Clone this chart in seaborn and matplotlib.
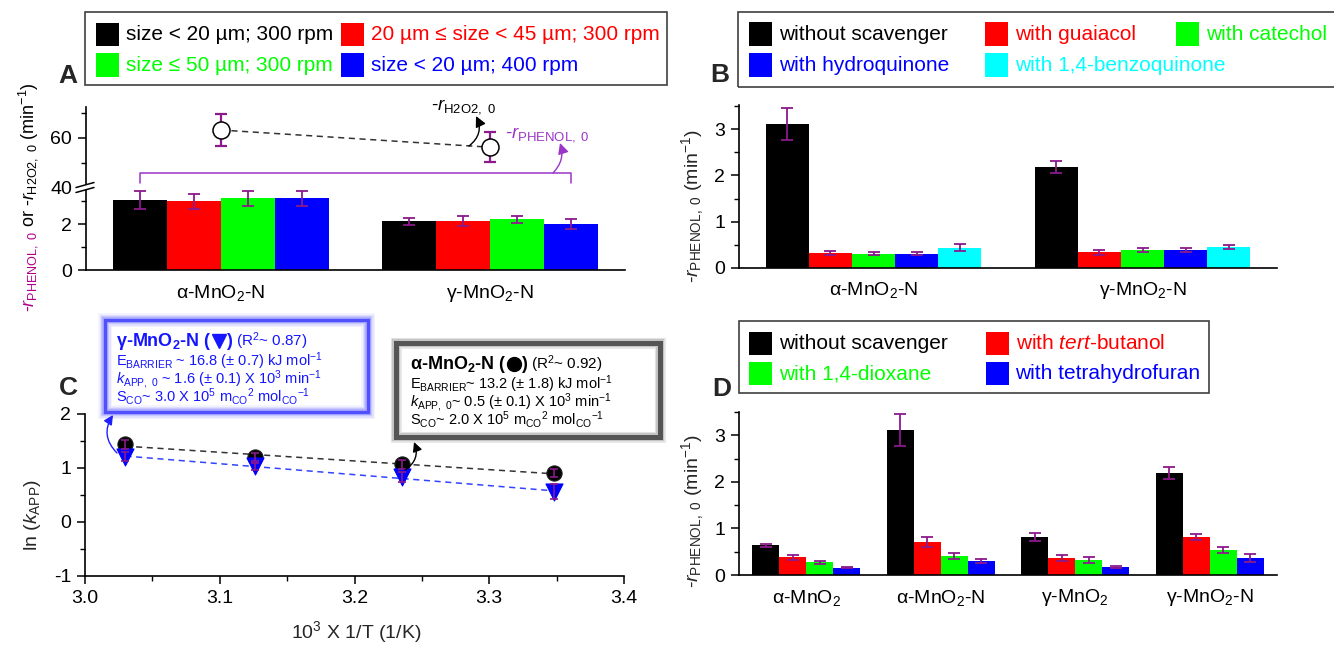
import numpy as np
import pandas as pd
import matplotlib
matplotlib.use("Agg")
import matplotlib.pyplot as plt
import seaborn as sns
from matplotlib.patches import Rectangle, Polygon
from matplotlib.lines import Line2D
from matplotlib.text import Annotation
from matplotlib.container import BarContainer
from matplotlib.ticker import MultipleLocator

# ---------------- data ----------------
# Panel A
catsA = ['α-MnO$_2$-N', 'γ-MnO$_2$-N']
seriesA = ['size < 20 µm; 300 rpm', '20 µm ≤ size < 45 µm; 300 rpm',
           'size ≤ 50 µm; 300 rpm', 'size < 20 µm; 400 rpm']
A_alpha = [3.05, 3.00, 3.12, 3.12]
A_alpha_err = [0.41, 0.33, 0.34, 0.32]
A_gamma = [2.12, 2.12, 2.20, 2.00]
A_gamma_err = [0.15, 0.22, 0.14, 0.22]
A_h2o2 = [63.2, 56.3]
A_h2o2_err = [6.5, 5.9]

# Panel B
catsB = ['α-MnO$_2$-N', 'γ-MnO$_2$-N']
seriesB = ['without scavenger', 'with guaiacol', 'with catechol',
           'with hydroquinone', 'with 1,4-benzoquinone']
B_alpha = [3.11, 0.32, 0.31, 0.31, 0.44]
B_alpha_err = [0.34, 0.05, 0.04, 0.04, 0.07]
B_gamma = [2.19, 0.34, 0.39, 0.39, 0.46]
B_gamma_err = [0.13, 0.05, 0.05, 0.04, 0.04]

# Panel C
invT = [3.030, 3.126, 3.235, 3.348]
ln_alpha = [1.44, 1.20, 1.07, 0.91]
ln_alpha_err = [0.08, 0.07, 0.08, 0.08]
ln_gamma = [1.21, 1.03, 0.83, 0.56]
ln_gamma_err = [0.08, 0.07, 0.09, 0.14]

# Panel D
catsD = ['α-MnO$_2$', 'α-MnO$_2$-N', 'γ-MnO$_2$', 'γ-MnO$_2$-N']
seriesD = ['without scavenger', 'with $\\mathit{tert}$-butanol',
           'with 1,4-dioxane', 'with tetrahydrofuran']
D_alphaMnO2 = [0.64, 0.38, 0.27, 0.16]
D_alphaMnO2_err = [0.03, 0.06, 0.035, 0.02]
D_alphaN = [3.11, 0.71, 0.41, 0.30]
D_alphaN_err = [0.34, 0.10, 0.06, 0.05]
D_gammaMnO2 = [0.82, 0.36, 0.32, 0.17]
D_gammaMnO2_err = [0.08, 0.06, 0.06, 0.03]
D_gammaN = [2.19, 0.82, 0.54, 0.36]
D_gammaN_err = [0.13, 0.06, 0.07, 0.09]

# ---------------- style ----------------
BLACK, RED, GREEN, BLUE, CYAN = '#000000', '#FF0000', '#00FF00', '#0000FF', '#00FFFF'
ERR = '#8B1A8B'
VIOLET = '#9B35C8'
MAGENTA = '#B0008C'

sns.set_theme(style='ticks', rc={'axes.edgecolor': 'black', 'xtick.color': 'black',
                                 'ytick.color': 'black', 'axes.linewidth': 1.2})
plt.rcParams['font.family'] = ['Liberation Sans', 'DejaVu Sans']
plt.rcParams['mathtext.fontset'] = 'custom'
plt.rcParams['mathtext.rm'] = 'Liberation Sans'
plt.rcParams['mathtext.it'] = 'Liberation Sans:italic'
plt.rcParams['mathtext.bf'] = 'Liberation Sans:bold'
plt.rcParams['mathtext.sf'] = 'Liberation Sans'
plt.rcParams['axes.unicode_minus'] = False

W, H = 1334, 645
fig = plt.figure(figsize=(W / 100, H / 100), dpi=100)
renderer = fig.canvas.get_renderer()


def R(x0, y0, x1, y1):
    return [x0 / W, 1 - y1 / H, (x1 - x0) / W, (y1 - y0) / H]


def F(x, y):
    return (x / W, 1 - y / H)


def P(x, y):
    return (x, H - y)


def style(ax, bars=True):
    for s in ['top', 'right']:
        ax.spines[s].set_visible(False)
    ax.tick_params(axis='y', which='major', direction='out', length=6, width=1.1,
                   labelsize=14, pad=4)
    ax.tick_params(axis='y', which='minor', direction='out', length=3.5, width=1.0)
    if bars:
        ax.tick_params(axis='x', length=0, labelsize=14, pad=9)
    ax.set_xlabel('')
    ax.set_ylabel('')


def bar_panel(ax, cats, series, per_cat_vals, per_cat_errs, colors):
    rows = []
    for i, c in enumerate(cats):
        for j, s in enumerate(series):
            rows.append({'cat': c, 'series': s, 'val': per_cat_vals[i][j]})
    df = pd.DataFrame(rows)
    sns.barplot(data=df, x='cat', y='val', hue='series', order=cats, hue_order=series,
                palette=dict(zip(series, colors)), errorbar=None, width=0.8,
                saturation=1, legend=False, linewidth=0, ax=ax, zorder=2)
    conts = [c for c in ax.containers if isinstance(c, BarContainer)]
    for j, cont in enumerate(conts):
        xs = [b.get_x() + b.get_width() / 2 for b in cont]
        ys = [b.get_height() for b in cont]
        es = [per_cat_errs[i][j] for i in range(len(cats))]
        ax.errorbar(xs, ys, yerr=es, fmt='none', ecolor=ERR, elinewidth=1.3,
                    capsize=4, capthick=1.3, zorder=3)
    return conts


def draw_legend(box, entries, fs=15):
    x0, y0, x1, y1 = box
    fig.add_artist(Rectangle(F(x0, y1), (x1 - x0) / W, (y1 - y0) / H,
                             transform=fig.transFigure, fill=False,
                             edgecolor='#404040', lw=1.2))
    for sx, cy, col, lab in entries:
        fig.add_artist(Rectangle(F(sx, cy + 11.5), 23 / W, 23 / H,
                                 transform=fig.transFigure, facecolor=col,
                                 edgecolor='none'))
        fig.text(*F(sx + 30, cy + 6), lab, color=col, fontsize=fs,
                 ha='left', va='baseline')


def chain(x, yb, pieces, zorder=6):
    """Place text pieces / marker glyphs one after another on a common baseline."""
    for p in pieces:
        if p[0] == 'gap':
            x += p[1]
        elif p[0] == 'marker':
            _, m, ms, col, w = p
            fig.add_artist(Line2D([(x + w / 2) / W], [1 - (yb - 5) / H], marker=m,
                                  ms=ms, color=col, mec=col, linestyle='none',
                                  transform=fig.transFigure, zorder=zorder))
            x += w
        else:
            s, kw = p
            t = fig.text(x / W, 1 - yb / H, s, ha='left', va='baseline',
                         zorder=zorder, **kw)
            x = t.get_window_extent(renderer).x1


# ---------------- Panel A ----------------
axAt = fig.add_axes(R(86, 107, 625, 188))
axAb = fig.add_axes(R(86, 188, 625, 270))
colorsA = [BLACK, RED, GREEN, BLUE]
contsA = bar_panel(axAb, catsA, seriesA, [A_alpha, A_gamma],
                   [A_alpha_err, A_gamma_err], colorsA)
style(axAb)
axAb.set_xlim(-0.5, 1.5)
axAb.set_ylim(0, 3.57)
axAb.yaxis.set_major_locator(MultipleLocator(2))
axAb.yaxis.set_minor_locator(MultipleLocator(1))

style(axAt, bars=False)
axAt.spines['bottom'].set_visible(False)
axAt.tick_params(axis='x', length=0, labelbottom=False)
xh = np.arange(len(A_h2o2))
axAt.plot(xh, A_h2o2, ls=(0, (4, 3)), color='#333333', lw=1.1, zorder=1)
axAt.errorbar(xh, A_h2o2, yerr=A_h2o2_err, fmt='none', ecolor=ERR, elinewidth=1.6,
              capsize=4.5, capthick=1.6, zorder=2)
sns.scatterplot(x=xh, y=A_h2o2, marker='o', s=150, facecolor='white',
                edgecolor='black', linewidth=1.1, zorder=4, ax=axAt)
axAt.set_xlim(-0.5, 1.5)
axAt.set_ylim(40, 72.4)
axAt.yaxis.set_major_locator(MultipleLocator(20))
axAt.yaxis.set_minor_locator(MultipleLocator(10))
axAt.set_xlabel('')
axAt.set_ylabel('')

# bracket over the bars (from first black bar to last blue bar)
c0 = contsA[0][0]
c3 = contsA[-1][-1]
bx0 = c0.get_x() + c0.get_width() / 2
bx1 = c3.get_x() + c3.get_width() / 2
axAt.plot([bx0, bx0, bx1, bx1], [42, 46, 46, 42], color=VIOLET, lw=1.1, zorder=1)

# break marks
fig.add_artist(Polygon([F(76, 187.5), F(94, 182.5), F(94, 187.5), F(76, 192.5)],
                       closed=True, transform=fig.transFigure, facecolor='white',
                       edgecolor='none', zorder=5))
for dy in (0, 5):
    fig.add_artist(Line2D([76 / W, 94 / W], [1 - (187.5 + dy) / H, 1 - (182.5 + dy) / H],
                          transform=fig.transFigure, color='black', lw=1.1, zorder=6))

# annotations in A
fig.text(*F(431, 110), r'-$r_{\mathrm{H2O2,\ 0}}$', fontsize=13.5, color='black',
         ha='left', va='baseline')
fig.text(*F(505, 137), r'-$r_{\mathrm{PHENOL,\ 0}}$', fontsize=13.5, color=VIOLET,
         ha='left', va='baseline')
fig.add_artist(Annotation(
    '', xy=P(476, 116), xytext=P(469, 146), xycoords='figure pixels',
    textcoords='figure pixels',
    arrowprops=dict(arrowstyle='-|>', color='black', lw=1.0, mutation_scale=16,
                    connectionstyle='arc3,rad=0.4', shrinkA=0, shrinkB=0)))
fig.add_artist(Annotation(
    '', xy=P(560, 143), xytext=P(553, 173), xycoords='figure pixels',
    textcoords='figure pixels',
    arrowprops=dict(arrowstyle='-|>', color=VIOLET, lw=1.0, mutation_scale=16,
                    connectionstyle='arc3,rad=0.3', shrinkA=0, shrinkB=0)))

draw_legend((85, 12, 667, 85),
            [(96, 34.5, BLACK, seriesA[0]), (341, 34.5, RED, seriesA[1]),
             (96, 65, GREEN, seriesA[2]), (341, 65, BLUE, seriesA[3])])

# ---------------- Panel B ----------------
axB = fig.add_axes(R(739, 105, 1277, 268))
bar_panel(axB, catsB, seriesB, [B_alpha, B_gamma], [B_alpha_err, B_gamma_err],
          [BLACK, RED, GREEN, BLUE, CYAN])
style(axB)
axB.set_xlim(-0.5, 1.5)
axB.set_ylim(0, 3.52)
axB.yaxis.set_major_locator(MultipleLocator(1))
axB.yaxis.set_minor_locator(MultipleLocator(0.5))
draw_legend((738, 12, 1345, 87),
            [(749, 34, BLACK, seriesB[0]), (985, 34, RED, seriesB[1]),
             (1176, 34, GREEN, seriesB[2]), (749, 65, BLUE, seriesB[3]),
             (985, 65, CYAN, seriesB[4])])

# ---------------- Panel C ----------------
axC = fig.add_axes(R(85, 414, 624, 576))
x_c = np.array(invT)
sns.regplot(x=x_c, y=np.array(ln_alpha), scatter=False, ci=None, ax=axC,
            line_kws=dict(color='#333333', lw=1.1, ls=(0, (4, 3)), zorder=1))
sns.regplot(x=x_c, y=np.array(ln_gamma), scatter=False, ci=None, ax=axC,
            line_kws=dict(color='#3344FF', lw=1.1, ls=(0, (4, 3)), zorder=1))
sns.scatterplot(x=x_c, y=ln_alpha, marker='o', s=120, color='black',
                edgecolor='#222222', linewidth=0.8, zorder=3, ax=axC)
sns.scatterplot(x=x_c, y=ln_gamma, marker='v', s=150, color=BLUE,
                edgecolor=BLUE, linewidth=0.8, zorder=4, ax=axC)
axC.errorbar(x_c, ln_alpha, yerr=ln_alpha_err, fmt='none', ecolor=ERR,
             elinewidth=1.2, capsize=3, capthick=1.2, zorder=5)
axC.errorbar(x_c, ln_gamma, yerr=ln_gamma_err, fmt='none', ecolor=ERR,
             elinewidth=1.2, capsize=3, capthick=1.2, zorder=5)
style(axC, bars=False)
axC.tick_params(axis='x', which='major', direction='out', length=6, width=1.1,
                labelsize=14, pad=4)
axC.tick_params(axis='x', which='minor', direction='out', length=3.5, width=1.0)
axC.set_xlim(3.0, 3.4)
axC.set_ylim(-1, 2)
axC.xaxis.set_major_locator(MultipleLocator(0.1))
axC.xaxis.set_minor_locator(MultipleLocator(0.05))
axC.yaxis.set_major_locator(MultipleLocator(1))
axC.yaxis.set_minor_locator(MultipleLocator(0.5))
axC.set_xlabel('')
axC.set_ylabel('')


# boxes in C
def frame_box(x0, y0, x1, y1, glow, edge, layers, main_lw):
    fig.add_artist(Rectangle(F(x0, y1), (x1 - x0) / W, (y1 - y0) / H,
                             transform=fig.transFigure, facecolor='white',
                             edgecolor='none', zorder=5))
    for lw, a in layers:
        fig.add_artist(Rectangle(F(x0, y1), (x1 - x0) / W, (y1 - y0) / H,
                                 transform=fig.transFigure, fill=False,
                                 edgecolor=glow, lw=lw, alpha=a, zorder=5))
    fig.add_artist(Rectangle(F(x0, y1), (x1 - x0) / W, (y1 - y0) / H,
                             transform=fig.transFigure, fill=False,
                             edgecolor=edge, lw=main_lw, zorder=5))


frame_box(105, 320, 368, 412, '#7070FF', '#5050FF',
          [(10, 0.08), (8, 0.12), (6, 0.2), (4.5, 0.3)], 2.4)
frame_box(396, 343, 660, 437, '#707070', '#555555',
          [(8, 0.15), (6, 0.3)], 3.6)

TB = '#1515FF'
bold13 = dict(fontsize=13, fontweight='bold')
chain(116, 346, [('γ-MnO$_\\mathbf{2}$-N (', dict(color=TB, **bold13)),
                 ('marker', 'v', 10, TB, 14),
                 (')', dict(color=TB, **bold13)), ('gap', 5),
                 ('(R$^2$~ 0.87)', dict(color=TB, fontsize=11))])
linesB = [r'E$_{\mathrm{BARRIER}}$ ~ 16.8 (± 0.7) kJ mol$^{-1}$',
          r'$k_{\mathrm{APP,\ 0}}$ ~ 1.6 (± 0.1) X 10$^{3}$ min$^{-1}$',
          r'S$_{\mathrm{CO}}$~ 3.0 X 10$^{5}$ m$_{\mathrm{CO}}$$^{2}$ mol$_{\mathrm{CO}}$$^{-1}$']
for yy, s in zip([366, 384, 402], linesB):
    fig.text(*F(116, yy), s, fontsize=10.5, color=TB, ha='left', va='baseline', zorder=6)

chain(410, 369, [('α-MnO$_\\mathbf{2}$-N (', dict(color='black', **bold13)),
                 ('marker', 'o', 10, 'black', 14),
                 (')', dict(color='black', **bold13)), ('gap', 5),
                 ('(R$^2$~ 0.92)', dict(color='black', fontsize=11))])
linesK = [r'E$_{\mathrm{BARRIER}}$~ 13.2 (± 1.8) kJ mol$^{-1}$',
          r'$k_{\mathrm{APP,\ 0}}$~ 0.5 (± 0.1) X 10$^{3}$ min$^{-1}$',
          r'S$_{\mathrm{CO}}$~ 2.0 X 10$^{5}$ m$_{\mathrm{CO}}$$^{2}$ mol$_{\mathrm{CO}}$$^{-1}$']
for yy, s in zip([389, 407, 425], linesK):
    fig.text(*F(410, yy), s, fontsize=10.5, color='black', ha='left', va='baseline', zorder=6)

fig.add_artist(Annotation(
    '', xy=P(113, 415), xytext=P(117, 453), xycoords='figure pixels',
    textcoords='figure pixels', zorder=7,
    arrowprops=dict(arrowstyle='-|>', color='#2020FF', lw=1.0, mutation_scale=14,
                    connectionstyle='arc3,rad=-0.4', shrinkA=0, shrinkB=0)))
fig.add_artist(Annotation(
    '', xy=P(414, 442), xytext=P(405, 470), xycoords='figure pixels',
    textcoords='figure pixels', zorder=7,
    arrowprops=dict(arrowstyle='-|>', color='black', lw=1.0, mutation_scale=14,
                    connectionstyle='arc3,rad=0.4', shrinkA=0, shrinkB=0)))

# ---------------- Panel D ----------------
axD = fig.add_axes(R(739, 412, 1277, 575))
bar_panel(axD, catsD, seriesD,
          [D_alphaMnO2, D_alphaN, D_gammaMnO2, D_gammaN],
          [D_alphaMnO2_err, D_alphaN_err, D_gammaMnO2_err, D_gammaN_err],
          [BLACK, RED, GREEN, BLUE])
style(axD)
axD.set_xlim(-0.5, 3.5)
axD.set_ylim(0, 3.5)
axD.yaxis.set_major_locator(MultipleLocator(1))
axD.yaxis.set_minor_locator(MultipleLocator(0.5))
draw_legend((739, 321, 1209, 393),
            [(749, 343, BLACK, seriesD[0]), (985.5, 343, RED, seriesD[1]),
             (749, 373, GREEN, seriesD[2]), (985.5, 373, BLUE, seriesD[3])])

# ---------------- labels ----------------
for lab, (x, y) in zip('ABCD', [(68, 76), (720, 75), (68, 388), (722, 389)]):
    fig.text(*F(x, y), lab, fontsize=19, fontweight='bold', ha='center', va='center')

rot = dict(rotation=90, rotation_mode='anchor', va='baseline')
t1 = fig.text(*F(33, 312), r'-$r_{\mathrm{PHENOL,\ 0}}$', color=MAGENTA,
              fontsize=13, ha='left', **rot)
bb = t1.get_window_extent(renderer)
fig.text(33 / W, (bb.y1 + 4) / H, r'or -$r_{\mathrm{H2O2,\ 0}}$ (min$^{-1}$)',
         color='black', fontsize=13, ha='left', **rot)

fig.text(*F(698, 206), r'-$r_{\mathrm{PHENOL,\ 0}}$ (min$^{-1}$)', fontsize=14,
         ha='center', **rot)
fig.text(*F(698, 511), r'-$r_{\mathrm{PHENOL,\ 0}}$ (min$^{-1}$)', fontsize=14,
         ha='center', **rot)
fig.text(*F(37, 515), r'ln ($k_{\mathrm{APP}}$)', fontsize=14, ha='center', **rot)
fig.text(*F(356, 638), r'10$^{3}$ X 1/T (1/K)', fontsize=14, ha='center', va='baseline')

fig.savefig('out.png', dpi=100)
